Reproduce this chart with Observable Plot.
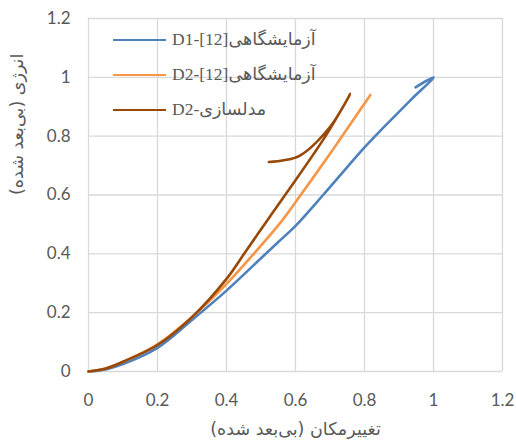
<!DOCTYPE html>
<html><head><meta charset="utf-8">
<script src="https://cdn.jsdelivr.net/npm/d3@7"></script>
<script src="https://cdn.jsdelivr.net/npm/@observablehq/plot@0.6"></script>
<style>
body{margin:0;background:#fff;}
#wrap{position:relative;width:516px;height:441px;}
#legend{position:absolute;left:113px;top:22px;font-family:"Liberation Serif","DejaVu Sans",serif;font-size:17.5px;color:#595959;}
.row{display:flex;align-items:center;height:35px;white-space:nowrap;}
.sw{width:53px;height:0;border-top:2.6px solid;margin-right:6px;}
</style></head><body><div id="wrap"><div id="legend"></div></div>
<script>
const seriesNames = ["D1-[12]آزمایشگاهی", "D2-[12]آزمایشگاهی", "D2-مدلسازی"];
const seriesColors = ["#4f81bd", "#f79646", "#984807"];

const d1X = [0, 0.05, 0.1, 0.2, 0.3, 0.4, 0.5, 0.55, 0.6, 0.68, 0.75, 0.8, 0.842, 0.884, 0.939, 1, 0.948];
const d1Y = [0, 0.007, 0.025, 0.08, 0.175, 0.275, 0.385, 0.44, 0.495, 0.6, 0.695, 0.762, 0.814, 0.864, 0.929, 1, 0.966];

const d2X = [0, 0.05, 0.1, 0.2, 0.3, 0.4, 0.479, 0.561, 0.615, 0.7, 0.735, 0.817];
const d2Y = [0, 0.01, 0.033, 0.092, 0.185, 0.298, 0.4, 0.513, 0.6, 0.74, 0.8, 0.94];

const d2mX = [0, 0.05, 0.1, 0.2, 0.3, 0.4, 0.451, 0.513, 0.576, 0.687, 0.759, 0.701, 0.614, 0.566, 0.523];
const d2mY = [0, 0.01, 0.033, 0.09, 0.185, 0.315, 0.4, 0.505, 0.61, 0.8, 0.944, 0.833, 0.735, 0.718, 0.712];

const xTicks = [0, 0.2, 0.4, 0.6, 0.8, 1, 1.2];
const xTickLabels = ["0", "0.2", "0.4", "0.6", "0.8", "1", "1.2"];
const yTicks = [0, 0.2, 0.4, 0.6, 0.8, 1, 1.2];
const yTickLabels = ["0", "0.2", "0.4", "0.6", "0.8", "1", "1.2"];

const xTitle = "تغییرمکان (بی‌بعد شده)";
const yTitle = "انرژی (بی‌بعد شده)";

const toRows = (xs, ys, s) => xs.map((x, i) => ({x, y: ys[i], s}));
const rows = [
  ...toRows(d1X, d1Y, seriesNames[0]),
  ...toRows(d2X, d2Y, seriesNames[1]),
  ...toRows(d2mX, d2mY, seriesNames[2])
];

const gridStyle = {stroke: "#d9d9d9", strokeOpacity: 1, strokeWidth: 1.3};
const rtl = d => "\u200F" + d + "\u200F";

const chart = Plot.plot({
  width: 516, height: 441,
  marginLeft: 88, marginRight: 14, marginTop: 18, marginBottom: 70,
  x: {domain: [0, 1.2]},
  y: {domain: [0, 1.2]},
  color: {domain: seriesNames, range: seriesColors},
  style: {fontFamily: "Lato, 'Liberation Sans', sans-serif", fontSize: "17px", color: "#595959", background: "#fff"},
  marks: [
    Plot.gridX(xTicks, gridStyle),
    Plot.gridY(yTicks, gridStyle),
    Plot.axisX(xTicks, {tickSize: 0, tickPadding: 22, label: null, fill: "#595959", fontSize: 17,
      tickFormat: d => xTickLabels[xTicks.indexOf(d)]}),
    Plot.axisY(yTicks, {tickSize: 0, tickPadding: 18, label: null, fill: "#595959", fontSize: 17,
      tickFormat: d => yTickLabels[yTicks.indexOf(d)]}),
    Plot.line(rows, {x: "x", y: "y", z: "s", stroke: "s", strokeWidth: 2.6, curve: "catmull-rom"}),
    Plot.text([xTitle], {text: rtl, frameAnchor: "bottom", dy: 63, fontSize: 17.5, fill: "#595959",
      fontFamily: "'DejaVu Sans', sans-serif"}),
    Plot.text([yTitle], {text: rtl, frameAnchor: "left", dx: -71, rotate: -90, fontSize: 17.5, fill: "#595959",
      fontFamily: "'DejaVu Sans', sans-serif"})
  ]
});
document.getElementById("wrap").prepend(chart);

const legend = document.getElementById("legend");
seriesNames.forEach((n, i) => {
  const r = document.createElement("div");
  r.className = "row";
  const sw = document.createElement("span");
  sw.className = "sw";
  sw.style.borderTopColor = seriesColors[i];
  const t = document.createElement("span");
  t.textContent = n;
  r.appendChild(sw); r.appendChild(t);
  legend.appendChild(r);
});
</script>
</body></html>
